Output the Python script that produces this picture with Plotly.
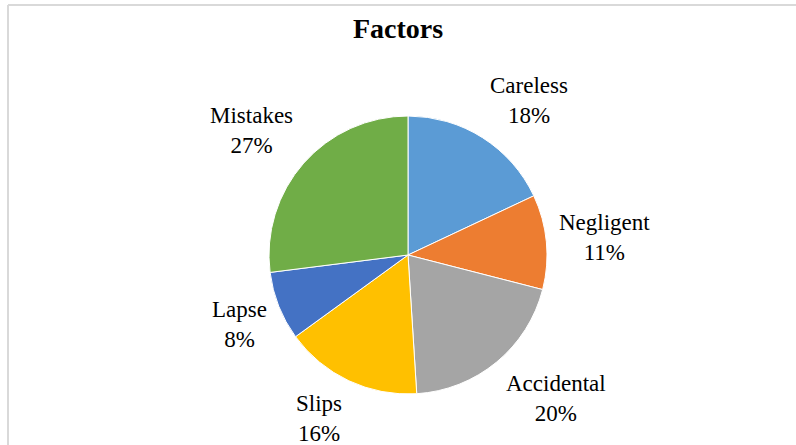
import math
import plotly.graph_objects as go

categories = ["Careless", "Negligent", "Accidental", "Slips", "Lapse", "Mistakes"]
values = [18, 11, 20, 16, 8, 27]
colors = ["#5B9BD5", "#ED7D31", "#A5A5A5", "#FFC000", "#4472C4", "#70AD47"]

W, H = 796, 445
CX, CY, R = 408, 255, 139
FONT = "Liberation Serif"

fig = go.Figure(go.Pie(
    labels=categories, values=values, sort=False, direction="clockwise", rotation=0,
    marker=dict(colors=colors, line=dict(color="white", width=1)),
    textinfo="none", hoverinfo="label+percent", showlegend=False,
    domain=dict(x=[(CX - R) / W, (CX + R) / W], y=[(H - CY - R) / H, (H - CY + R) / H]),
))

total = sum(values)
cum = 0
annotations = []
for lab, v in zip(categories, values):
    mid = (cum + v / 2) / total * 2 * math.pi
    cum += v
    s, c = math.sin(mid), math.cos(mid)
    r0 = R + 11
    px = CX + r0 * s
    py = CY - r0 * c
    xa = "left" if s > 0.3 else ("right" if s < -0.3 else "center")
    ysh = 28 * max(-1.0, min(1.0, c / 0.72))
    pct = round(v / total * 100)
    annotations.append(dict(
        x=px / W, y=1 - py / H, xref="paper", yref="paper",
        xanchor=xa, yanchor="middle", yshift=ysh, showarrow=False, align="center",
        text=f"{lab}<br>{pct}%", font=dict(family=FONT, size=23, color="#000000"),
    ))

fig.update_layout(
    width=W, height=H, margin=dict(l=0, r=0, t=0, b=0),
    paper_bgcolor="white", plot_bgcolor="white",
    title=dict(text="<b>Factors</b>", x=0.5, xanchor="center", y=1 - 28 / H, yanchor="middle",
               font=dict(family=FONT, size=28, color="#000000")),
    annotations=annotations,
    shapes=[
        dict(type="line", xref="paper", yref="paper", x0=8 / W, x1=1, y0=1 - 5 / H, y1=1 - 5 / H,
             line=dict(color="#D9D9D9", width=2)),
        dict(type="line", xref="paper", yref="paper", x0=8 / W, x1=8 / W, y0=0, y1=1 - 5 / H,
             line=dict(color="#D9D9D9", width=2)),
    ],
)

fig.write_html("out.html")
